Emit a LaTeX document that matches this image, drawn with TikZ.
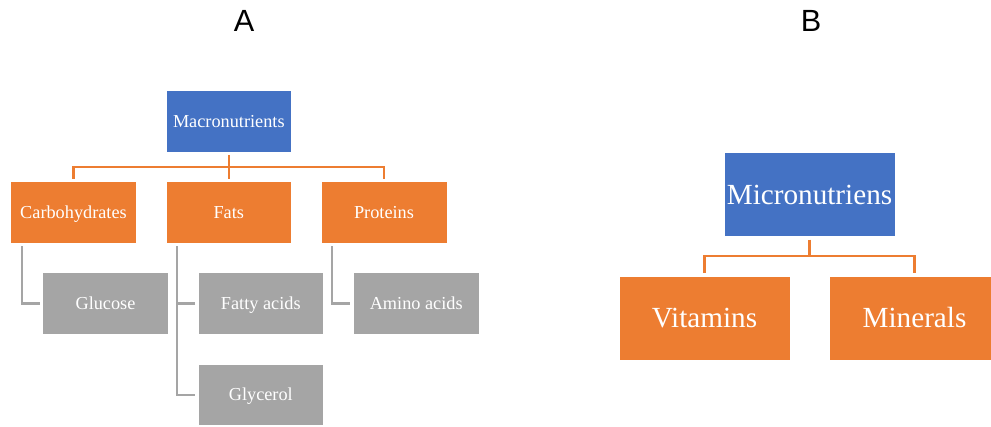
\documentclass[tikz,border=0pt]{standalone}
\usepackage{fontspec}
\setmainfont{Liberation Serif}
\newfontfamily\headfont{Liberation Sans}

\definecolor{boxblue}{RGB}{68,114,196}
\definecolor{boxorange}{RGB}{237,125,49}
\definecolor{boxgray}{RGB}{165,165,165}

\tikzset{every picture/.style={line width=0.75pt}}
\tikzset{
  smallbox/.style={draw=white, line width=0.4pt, text=white, minimum width=94.3pt, minimum height=46.2pt, inner sep=0pt, text height=10.5pt, text depth=1.8pt, font=\fontsize{13.7}{16}\selectfont},
  bigbox/.style={draw=white, line width=0.4pt, text=white, minimum width=128.25pt, minimum height=63pt, inner sep=0pt, text height=16.5pt, text depth=2.5pt, font=\fontsize{21.9}{26}\selectfont},
  orangeline/.style={draw=boxorange, line width=1.7pt},
  grayline/.style={draw=boxgray, line width=1.7pt},
}

\begin{document}
\begin{tikzpicture}[x=0.75pt,y=0.75pt,yscale=-1,xscale=1]
\useasboundingbox (0,0) rectangle (991,426);

% Text Node
\node (titleA) at (244,20.5) {\headfont\fontsize{23}{27}\selectfont A};
% Text Node
\node (titleB) at (811,20.5) {\headfont\fontsize{23}{27}\selectfont B};

%Shape: Rectangle [macro]
\node (macro) at (228.8,121.2) [smallbox, fill=boxblue] {Macronutrients};
%Shape: Rectangle [carbo]
\node (carbo) at (73.5,212.5) [smallbox, fill=boxorange] {Carbohydrates};
%Shape: Rectangle [fats]
\node (fats) at (228.8,212.5) [smallbox, fill=boxorange] {Fats};
%Shape: Rectangle [prot]
\node (prot) at (384,212.5) [smallbox, fill=boxorange] {Proteins};
%Shape: Rectangle [gluc]
\node (gluc) at (105.5,303.5) [smallbox, fill=boxgray] {Glucose};
%Shape: Rectangle [fatty]
\node (fatty) at (260.8,303.5) [smallbox, fill=boxgray] {Fatty acids};
%Shape: Rectangle [glyc]
\node (glyc) at (260.8,394.7) [smallbox, fill=boxgray] {Glycerol};
%Shape: Rectangle [amino]
\node (amino) at (416.2,303.5) [smallbox, fill=boxgray] {Amino acids};

%Shape: Rectangle [micro]
\node (micro) at (809.5,194.7) [bigbox, fill=boxblue] {Micronutriens};
%Shape: Rectangle [vit]
\node (vit) at (704.5,318) [bigbox, fill=boxorange] {Vitamins};
%Shape: Rectangle [mine]
\node (mine) at (914.5,318) [bigbox, fill=boxorange] {Minerals};

\coordinate (busA) at (228.8,167);
\coordinate (busB) at (809.5,256);

%Straight Lines [A, level 1]
\draw [orangeline, shorten <=2pt] (macro.south) -- (busA);
\draw [orangeline, shorten <=2pt, shorten >=2pt] (carbo.north) |- (busA) -| (prot.north);
\draw [orangeline, shorten >=2pt] (busA) -- (fats.north);

%Straight Lines [A, level 2]
\draw [grayline, shorten >=2pt] (carbo.south west) ++(11.3,2.5) |- (gluc.west);
\draw [grayline, shorten >=2pt] (fats.south west) ++(11.3,2.5) |- (glyc.west);
\draw [grayline, shorten <=2pt] (fatty.west) -- ++(-21,0);
\draw [grayline, shorten >=2pt] (prot.south west) ++(11.3,2.5) |- (amino.west);

%Straight Lines [B]
\draw [orangeline, shorten <=2pt] (micro.south) -- (busB);
\draw [orangeline, shorten <=2pt, shorten >=2pt] (vit.north) |- (busB) -| (mine.north);

\end{tikzpicture}
\end{document}
